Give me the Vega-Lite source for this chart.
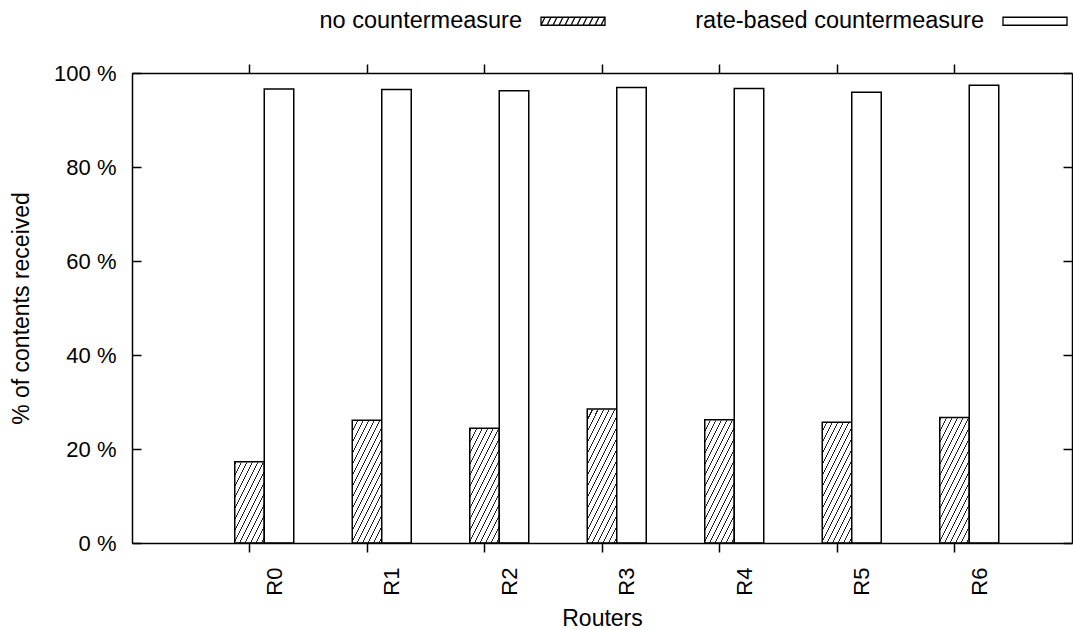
{
  "$schema": "https://vega.github.io/schema/vega-lite/v6.json",
  "autosize": {"type": "none"},
  "padding": {"left": 132, "top": 73, "right": 1, "bottom": 87},
  "width": 940,
  "height": 470,
  "config": {
    "view": {"stroke": null},
    "font": "Liberation Sans",
    "axis": {
      "grid": false,
      "domainColor": "#000",
      "domainWidth": 1.5,
      "tickColor": "#000",
      "tickWidth": 1.5,
      "labelColor": "#000",
      "labelFont": "Liberation Sans",
      "labelFontSize": 22,
      "titleColor": "#000",
      "titleFont": "Liberation Sans",
      "titleFontSize": 23,
      "titleFontWeight": "normal",
      "zindex": 1
    }
  },
  "data": {
    "values": [
      {"router": "R0", "series": "no countermeasure", "value": 17.3},
      {"router": "R0", "series": "rate-based countermeasure", "value": 96.6},
      {"router": "R1", "series": "no countermeasure", "value": 26.1},
      {"router": "R1", "series": "rate-based countermeasure", "value": 96.5},
      {"router": "R2", "series": "no countermeasure", "value": 24.4},
      {"router": "R2", "series": "rate-based countermeasure", "value": 96.2},
      {"router": "R3", "series": "no countermeasure", "value": 28.5},
      {"router": "R3", "series": "rate-based countermeasure", "value": 96.9},
      {"router": "R4", "series": "no countermeasure", "value": 26.2},
      {"router": "R4", "series": "rate-based countermeasure", "value": 96.7},
      {"router": "R5", "series": "no countermeasure", "value": 25.7},
      {"router": "R5", "series": "rate-based countermeasure", "value": 95.9},
      {"router": "R6", "series": "no countermeasure", "value": 26.7},
      {"router": "R6", "series": "rate-based countermeasure", "value": 97.4}
    ]
  },
  "layer": [
    {
      "transform": [{"filter": "datum.series === 'no countermeasure'"}],
      "mark": {
        "type": "bar",
        "stroke": null,
        "fill": {
          "gradient": "linear",
          "x1": 0, "y1": 0, "x2": 0.1393, "y2": 1.1082,
          "stops": [
            {"offset": 0, "color": "#fff"},
            {"offset": 0.00813, "color": "#fff"}, {"offset": 0.00813, "color": "#222"}, {"offset": 0.01271, "color": "#222"}, {"offset": 0.01271, "color": "#fff"},
            {"offset": 0.02896, "color": "#fff"}, {"offset": 0.02896, "color": "#222"}, {"offset": 0.03354, "color": "#222"}, {"offset": 0.03354, "color": "#fff"},
            {"offset": 0.04979, "color": "#fff"}, {"offset": 0.04979, "color": "#222"}, {"offset": 0.05438, "color": "#222"}, {"offset": 0.05438, "color": "#fff"},
            {"offset": 0.07063, "color": "#fff"}, {"offset": 0.07063, "color": "#222"}, {"offset": 0.07521, "color": "#222"}, {"offset": 0.07521, "color": "#fff"},
            {"offset": 0.09146, "color": "#fff"}, {"offset": 0.09146, "color": "#222"}, {"offset": 0.09604, "color": "#222"}, {"offset": 0.09604, "color": "#fff"},
            {"offset": 0.11229, "color": "#fff"}, {"offset": 0.11229, "color": "#222"}, {"offset": 0.11688, "color": "#222"}, {"offset": 0.11688, "color": "#fff"},
            {"offset": 0.13313, "color": "#fff"}, {"offset": 0.13313, "color": "#222"}, {"offset": 0.13771, "color": "#222"}, {"offset": 0.13771, "color": "#fff"},
            {"offset": 0.15396, "color": "#fff"}, {"offset": 0.15396, "color": "#222"}, {"offset": 0.15854, "color": "#222"}, {"offset": 0.15854, "color": "#fff"},
            {"offset": 0.17479, "color": "#fff"}, {"offset": 0.17479, "color": "#222"}, {"offset": 0.17938, "color": "#222"}, {"offset": 0.17938, "color": "#fff"},
            {"offset": 0.19563, "color": "#fff"}, {"offset": 0.19563, "color": "#222"}, {"offset": 0.20021, "color": "#222"}, {"offset": 0.20021, "color": "#fff"},
            {"offset": 0.21646, "color": "#fff"}, {"offset": 0.21646, "color": "#222"}, {"offset": 0.22104, "color": "#222"}, {"offset": 0.22104, "color": "#fff"},
            {"offset": 0.23729, "color": "#fff"}, {"offset": 0.23729, "color": "#222"}, {"offset": 0.24188, "color": "#222"}, {"offset": 0.24188, "color": "#fff"},
            {"offset": 0.25813, "color": "#fff"}, {"offset": 0.25813, "color": "#222"}, {"offset": 0.26271, "color": "#222"}, {"offset": 0.26271, "color": "#fff"},
            {"offset": 0.27896, "color": "#fff"}, {"offset": 0.27896, "color": "#222"}, {"offset": 0.28354, "color": "#222"}, {"offset": 0.28354, "color": "#fff"},
            {"offset": 0.29979, "color": "#fff"}, {"offset": 0.29979, "color": "#222"}, {"offset": 0.30438, "color": "#222"}, {"offset": 0.30438, "color": "#fff"},
            {"offset": 0.32063, "color": "#fff"}, {"offset": 0.32063, "color": "#222"}, {"offset": 0.32521, "color": "#222"}, {"offset": 0.32521, "color": "#fff"},
            {"offset": 0.34146, "color": "#fff"}, {"offset": 0.34146, "color": "#222"}, {"offset": 0.34604, "color": "#222"}, {"offset": 0.34604, "color": "#fff"},
            {"offset": 0.36229, "color": "#fff"}, {"offset": 0.36229, "color": "#222"}, {"offset": 0.36688, "color": "#222"}, {"offset": 0.36688, "color": "#fff"},
            {"offset": 0.38313, "color": "#fff"}, {"offset": 0.38313, "color": "#222"}, {"offset": 0.38771, "color": "#222"}, {"offset": 0.38771, "color": "#fff"},
            {"offset": 0.40396, "color": "#fff"}, {"offset": 0.40396, "color": "#222"}, {"offset": 0.40854, "color": "#222"}, {"offset": 0.40854, "color": "#fff"},
            {"offset": 0.42479, "color": "#fff"}, {"offset": 0.42479, "color": "#222"}, {"offset": 0.42938, "color": "#222"}, {"offset": 0.42938, "color": "#fff"},
            {"offset": 0.44563, "color": "#fff"}, {"offset": 0.44563, "color": "#222"}, {"offset": 0.45021, "color": "#222"}, {"offset": 0.45021, "color": "#fff"},
            {"offset": 0.46646, "color": "#fff"}, {"offset": 0.46646, "color": "#222"}, {"offset": 0.47104, "color": "#222"}, {"offset": 0.47104, "color": "#fff"},
            {"offset": 0.48729, "color": "#fff"}, {"offset": 0.48729, "color": "#222"}, {"offset": 0.49188, "color": "#222"}, {"offset": 0.49188, "color": "#fff"},
            {"offset": 0.50813, "color": "#fff"}, {"offset": 0.50813, "color": "#222"}, {"offset": 0.51271, "color": "#222"}, {"offset": 0.51271, "color": "#fff"},
            {"offset": 0.52896, "color": "#fff"}, {"offset": 0.52896, "color": "#222"}, {"offset": 0.53354, "color": "#222"}, {"offset": 0.53354, "color": "#fff"},
            {"offset": 0.54979, "color": "#fff"}, {"offset": 0.54979, "color": "#222"}, {"offset": 0.55438, "color": "#222"}, {"offset": 0.55438, "color": "#fff"},
            {"offset": 0.57063, "color": "#fff"}, {"offset": 0.57063, "color": "#222"}, {"offset": 0.57521, "color": "#222"}, {"offset": 0.57521, "color": "#fff"},
            {"offset": 0.59146, "color": "#fff"}, {"offset": 0.59146, "color": "#222"}, {"offset": 0.59604, "color": "#222"}, {"offset": 0.59604, "color": "#fff"},
            {"offset": 0.61229, "color": "#fff"}, {"offset": 0.61229, "color": "#222"}, {"offset": 0.61688, "color": "#222"}, {"offset": 0.61688, "color": "#fff"},
            {"offset": 0.63313, "color": "#fff"}, {"offset": 0.63313, "color": "#222"}, {"offset": 0.63771, "color": "#222"}, {"offset": 0.63771, "color": "#fff"},
            {"offset": 0.65396, "color": "#fff"}, {"offset": 0.65396, "color": "#222"}, {"offset": 0.65854, "color": "#222"}, {"offset": 0.65854, "color": "#fff"},
            {"offset": 0.67479, "color": "#fff"}, {"offset": 0.67479, "color": "#222"}, {"offset": 0.67938, "color": "#222"}, {"offset": 0.67938, "color": "#fff"},
            {"offset": 0.69563, "color": "#fff"}, {"offset": 0.69563, "color": "#222"}, {"offset": 0.70021, "color": "#222"}, {"offset": 0.70021, "color": "#fff"},
            {"offset": 0.71646, "color": "#fff"}, {"offset": 0.71646, "color": "#222"}, {"offset": 0.72104, "color": "#222"}, {"offset": 0.72104, "color": "#fff"},
            {"offset": 0.73729, "color": "#fff"}, {"offset": 0.73729, "color": "#222"}, {"offset": 0.74188, "color": "#222"}, {"offset": 0.74188, "color": "#fff"},
            {"offset": 0.75813, "color": "#fff"}, {"offset": 0.75813, "color": "#222"}, {"offset": 0.76271, "color": "#222"}, {"offset": 0.76271, "color": "#fff"},
            {"offset": 0.77896, "color": "#fff"}, {"offset": 0.77896, "color": "#222"}, {"offset": 0.78354, "color": "#222"}, {"offset": 0.78354, "color": "#fff"},
            {"offset": 0.79979, "color": "#fff"}, {"offset": 0.79979, "color": "#222"}, {"offset": 0.80438, "color": "#222"}, {"offset": 0.80438, "color": "#fff"},
            {"offset": 0.82063, "color": "#fff"}, {"offset": 0.82063, "color": "#222"}, {"offset": 0.82521, "color": "#222"}, {"offset": 0.82521, "color": "#fff"},
            {"offset": 0.84146, "color": "#fff"}, {"offset": 0.84146, "color": "#222"}, {"offset": 0.84604, "color": "#222"}, {"offset": 0.84604, "color": "#fff"},
            {"offset": 0.86229, "color": "#fff"}, {"offset": 0.86229, "color": "#222"}, {"offset": 0.86688, "color": "#222"}, {"offset": 0.86688, "color": "#fff"},
            {"offset": 0.88313, "color": "#fff"}, {"offset": 0.88313, "color": "#222"}, {"offset": 0.88771, "color": "#222"}, {"offset": 0.88771, "color": "#fff"},
            {"offset": 0.90396, "color": "#fff"}, {"offset": 0.90396, "color": "#222"}, {"offset": 0.90854, "color": "#222"}, {"offset": 0.90854, "color": "#fff"},
            {"offset": 0.92479, "color": "#fff"}, {"offset": 0.92479, "color": "#222"}, {"offset": 0.92938, "color": "#222"}, {"offset": 0.92938, "color": "#fff"},
            {"offset": 0.94563, "color": "#fff"}, {"offset": 0.94563, "color": "#222"}, {"offset": 0.95021, "color": "#222"}, {"offset": 0.95021, "color": "#fff"},
            {"offset": 0.96646, "color": "#fff"}, {"offset": 0.96646, "color": "#222"}, {"offset": 0.97104, "color": "#222"}, {"offset": 0.97104, "color": "#fff"},
            {"offset": 0.98729, "color": "#fff"}, {"offset": 0.98729, "color": "#222"}, {"offset": 0.99188, "color": "#222"}, {"offset": 0.99188, "color": "#fff"},
            {"offset": 1, "color": "#fff"}
          ]
        }
      },
      "encoding": {
        "x": {
          "field": "router", "type": "nominal", "sort": null,
          "scale": {"paddingInner": 0, "paddingOuter": 0.5},
          "axis": {"orient": "top", "labels": false, "title": null, "tickSize": 9, "zindex": 2}
        },
        "xOffset": {
          "field": "series", "type": "nominal",
          "sort": ["no countermeasure", "rate-based countermeasure"],
          "scale": {"range": [44, 103]}
        },
        "y": {
          "datum": 100, "type": "quantitative",
          "scale": {"domain": [0, 100], "nice": false},
          "axis": {"orient": "right", "labels": false, "title": null, "tickSize": -9, "values": [0, 20, 40, 60, 80, 100], "zindex": 2}
        },
        "y2": {"datum": 0}
      }
    },
    {
      "transform": [{"filter": "datum.series === 'no countermeasure'"}],
      "mark": {"type": "bar", "fill": "#fff", "stroke": "#fff", "strokeWidth": 1.5},
      "encoding": {
        "x": {"field": "router", "type": "nominal", "sort": null, "axis": null},
        "xOffset": {"field": "series", "type": "nominal", "sort": ["no countermeasure", "rate-based countermeasure"]},
        "y": {"field": "value", "type": "quantitative", "axis": null},
        "y2": {"datum": 99.7}
      }
    },
    {
      "mark": {"type": "bar", "stroke": "#000", "strokeWidth": 1.5},
      "encoding": {
        "x": {
          "field": "router", "type": "nominal", "sort": null,
          "axis": {
            "orient": "bottom", "title": "Routers",
            "labelAngle": -90, "labelAlign": "right", "labelBaseline": "top",
            "labelOffset": 15, "labelPadding": 15, "tickSize": 9, "titlePadding": 12, "zindex": 2
          }
        },
        "xOffset": {"field": "series", "type": "nominal", "sort": ["no countermeasure", "rate-based countermeasure"]},
        "y": {
          "field": "value", "type": "quantitative",
          "axis": {
            "orient": "left", "title": "% of contents received",
            "values": [0, 20, 40, 60, 80, 100],
            "labelExpr": "datum.value + ' %'",
            "tickSize": -9, "labelPadding": 25, "titlePadding": 20, "zindex": 2
          }
        },
        "fill": {
          "field": "series", "type": "nominal",
          "scale": {"domain": ["no countermeasure", "rate-based countermeasure"], "range": ["transparent", "#ffffff"]},
          "legend": {
            "orient": "none", "legendX": 408, "legendY": -85,
            "direction": "horizontal", "title": null, "padding": 0,
            "symbolType": "M-1,-0.125H1V0.125H-1Z", "symbolSize": 4096,
            "symbolStrokeColor": "#000", "symbolStrokeWidth": 1.3,
            "labelAlign": "right", "labelOffset": -84, "labelLimit": 500,
            "labelFont": "Liberation Sans", "labelFontSize": 23.5, "labelColor": "#000",
            "columnPadding": 87,
            "encode": {
              "symbols": {
                "update": {
                  "stroke": {"value": "#000"},
                  "strokeWidth": {"value": 1.3},
                  "opacity": {"value": 1},
                  "shape": [
                    {
                      "test": "datum.value === 'no countermeasure'",
                      "value": "M-1,-0.125H1V0.125H-1Z M-1,0.125L-0.875,-0.125 M-0.8125,0.125L-0.6875,-0.125 M-0.625,0.125L-0.5,-0.125 M-0.4375,0.125L-0.3125,-0.125 M-0.25,0.125L-0.125,-0.125 M-0.0625,0.125L0.0625,-0.125 M0.125,0.125L0.25,-0.125 M0.3125,0.125L0.4375,-0.125 M0.5,0.125L0.625,-0.125 M0.6875,0.125L0.8125,-0.125 M0.875,0.125L1,-0.125"
                    },
                    {"value": "M-1,-0.125H1V0.125H-1Z"}
                  ]
                }
              }
            }
          }
        }
      }
    }
  ],
  "resolve": {"axis": {"x": "independent", "y": "independent"}}
}
